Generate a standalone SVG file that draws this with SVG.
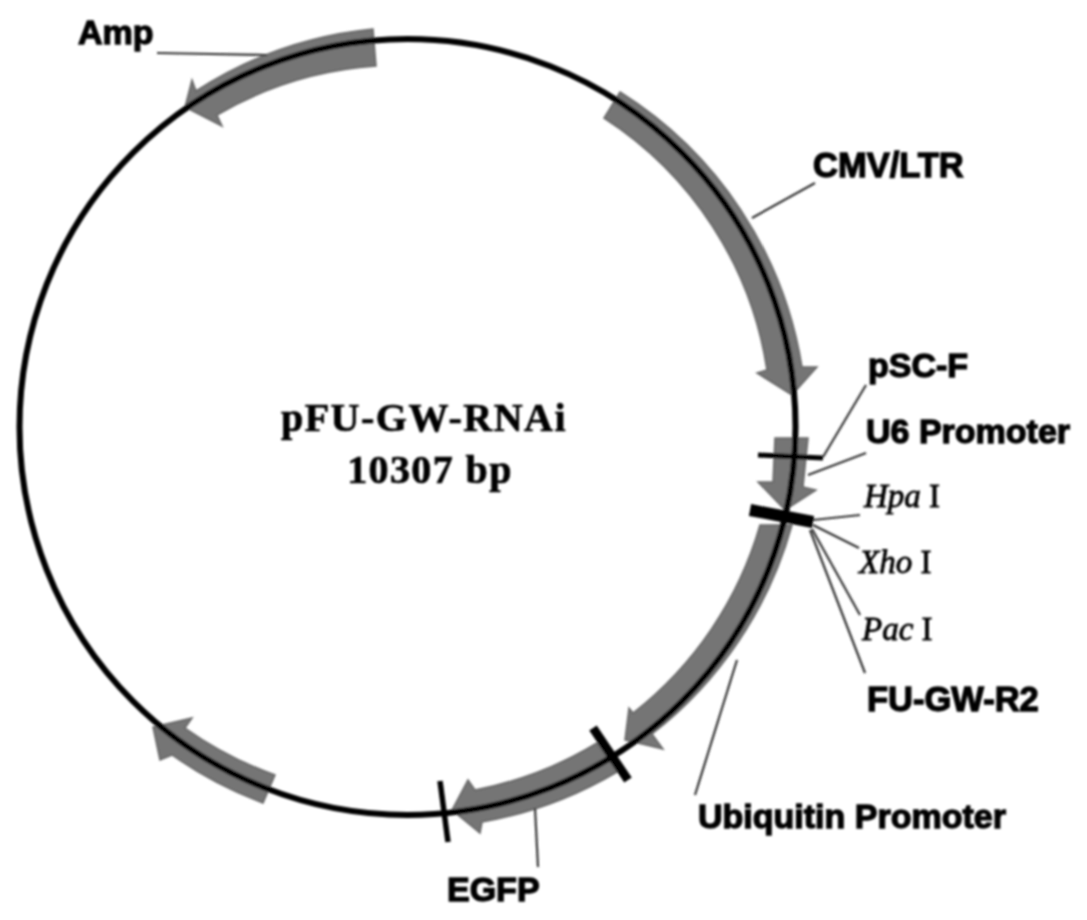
<svg xmlns="http://www.w3.org/2000/svg" width="1087" height="920" viewBox="0 0 1087 920">
<defs>
<style>
.bg{fill:#fff}
.seg{fill:#747474;stroke:#666;stroke-width:1.5}
.ring{fill:none;stroke:#000;stroke-width:6}
.lead{fill:none;stroke:#333;stroke-width:2.2}
.tick{fill:none;stroke:#000}
.sans{font-family:"Liberation Sans",Arial,sans-serif;font-weight:700;fill:#000;stroke:#000;stroke-width:1.3}
.serif{font-family:"Liberation Serif","Times New Roman",serif;fill:#000}
.title{font-weight:700;font-size:40px;stroke:#000;stroke-width:.7;text-anchor:middle}
.site{stroke:#000;stroke-width:.8}
</style>
<filter id="soft" x="-5%" y="-5%" width="110%" height="110%"><feGaussianBlur stdDeviation="0.8"/></filter>
</defs>
<rect class="bg" width="1087" height="920"/>
<g filter="url(#soft)">
<g id="segments">
<path id="seg-amp" class="seg" d="M373,29 A398,398 0 0 0 196,91 L192,80 L185,107 L222,126 L217,115 A363,363 0 0 1 376,66 Z"/>
<path id="seg-cmv" class="seg" d="M620,92 A399,399 0 0 1 802,367 L817,367 L792,395 L757,373 L767,370 A365,365 0 0 0 604,118 Z"/>
<path id="seg-u6" class="seg" d="M775,438 L808,438 L803,487 L816,490 L785,510 L758,482 L773,482 Z"/>
<path id="seg-ubi" class="seg" d="M792,525 A398,398 0 0 1 652,734 L663,749 L625,740 L629,708 L633,713 A367,367 0 0 0 760,525 Z"/>
<path id="seg-egfp" class="seg" d="M597,743 A369,369 0 0 1 475,790 L468,780 L452,810 L480,833 L482,822 A402,402 0 0 0 617,772 Z"/>
<path id="seg-left" class="seg" d="M275,775 A373,373 0 0 1 185,728 L192,718 L153,727 L160,760 L172,755 A403,403 0 0 0 263,803 Z"/>
</g>
<g id="connectors">
<circle id="ring" class="ring" cx="407.5" cy="427" r="388"/>
<path class="lead" d="M157,53 L267,55"/>
<path class="lead" d="M815,183 L752,218"/>
<path class="lead" d="M866,385 L823,457"/>
<path class="lead" d="M866,453 L808,475"/>
<path class="lead" d="M860,515 L813,520"/>
<path class="lead" d="M859,548 L813,525"/>
<path class="lead" d="M860,615 L812,529"/>
<path class="lead" d="M865,673 L810,530"/>
<path class="lead" d="M737,660 L695,795"/>
<path class="lead" d="M535,808 L538,867"/>
<path class="tick" stroke-width="5" d="M758,455 L823,458"/>
<path class="tick" stroke-width="12" d="M750,510 L813,522"/>
<path class="tick" stroke-width="9" d="M593,728 L628,780"/>
<path class="tick" stroke-width="5.5" d="M440,781 L448,842"/>
</g>
<g id="label-center">
<text class="serif title" x="424" y="431" letter-spacing="1.5">pFU-GW-RNAi</text>
<text class="serif title" x="430" y="483" letter-spacing="1.4">10307 bp</text>
</g>
<g id="labels">
<text id="label-amp" class="sans" x="78" y="44" font-size="34">Amp</text>
<text id="label-cmv" class="sans" x="813" y="177" font-size="34.5">CMV/LTR</text>
<text id="label-psc" class="sans" x="868" y="377" font-size="34">pSC-F</text>
<text id="label-u6" class="sans" x="866" y="443" font-size="34">U6 Promoter</text>
<text id="label-hpa" class="serif site" x="864" y="507" font-size="33"><tspan font-style="italic">Hpa</tspan> I</text>
<text id="label-xho" class="serif site" x="859" y="573" font-size="33"><tspan font-style="italic">Xho</tspan> I</text>
<text id="label-pac" class="serif site" x="862" y="640" font-size="33"><tspan font-style="italic">Pac</tspan> I</text>
<text id="label-fu" class="sans" x="867" y="711" font-size="34.5">FU-GW-R2</text>
<text id="label-ubi" class="sans" x="698" y="828" font-size="34">Ubiquitin Promoter</text>
<text id="label-egfp" class="sans" x="447" y="901" font-size="34">EGFP</text>
</g>
</g>
</svg>
